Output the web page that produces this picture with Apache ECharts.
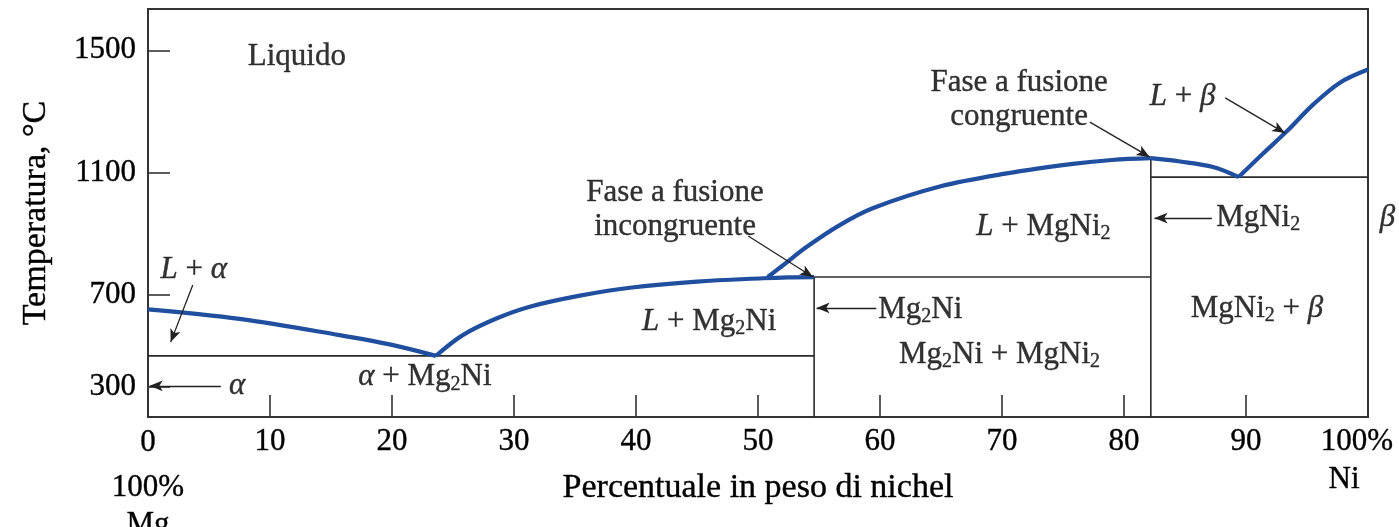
<!DOCTYPE html>
<html><head><meta charset="utf-8">
<script src="https://cdn.jsdelivr.net/npm/echarts@6/dist/echarts.min.js"></script>
<style>html,body{margin:0;padding:0;background:#fff}#c{width:1399px;height:527px}</style>
</head><body><div id="c"></div>
<script>
// ---- data (composition wt% Ni, temperature °C) ----
const xTickValues = [0,10,20,30,40,50,60,70,80,90,100];
const yTickValues = [400, 700, 1100, 1500];
const yTickLabels = ['300', '700', '1100', '1500'];

const liquidusMg      = [[0,652],[7.5,621],[15.7,568],[20,536],[23.6,500]];
const liquidusMg2Ni   = [[23.6,500],[25.8,568],[28.6,623],[31.3,661],[35.4,697],[39.5,723],[45,743],[50.4,754],[52.5,757],[54.6,758]];
const liquidusMgNi2L  = [[50.8,758],[52,795],[54,857],[56.7,928],[59.4,983],[64.9,1054],[70.4,1097],[75.8,1128],[79,1141],[82.2,1147]];
const liquidusMgNi2R  = [[82.2,1147],[84.6,1136],[87.3,1118],[89.4,1085]];
const liquidusNi      = [[89.4,1085],[91.4,1162],[93.3,1233],[95.5,1322],[97.7,1394],[100,1437]];

const eutecticLeft  = [[0,500],[54.6,500]];
const mg2niLine     = [[54.6,300],[54.6,758]];
const peritectic    = [[54.6,758],[82.2,758]];
const mgni2Line     = [[82.2,300],[82.2,1147]];
const eutecticRight = [[82.2,1085],[100,1085]];

const regionLabels = [
  ['Liquido', 12.2, 1478],
  ['{i|L} + {i|α}', 3.76, 781],
  ['{i|α}', 7.3, 401],
  ['{i|α} + Mg{s|2}Ni', 22.7, 430],
  ['{i|L} + Mg{s|2}Ni', 46.0, 611],
  ['Mg{s|2}Ni', 63.3, 652],
  ['Mg{s|2}Ni + MgNi{s|2}', 69.8, 503],
  ['{i|L} + MgNi{s|2}', 73.4, 922],
  ['{i|L} + {i|β}', 84.8, 1347],
  ['MgNi{s|2}', 91.0, 951],
  ['{i|β}', 101.6, 951],
  ['MgNi{s|2} + {i|β}', 90.9, 653]
];
const noteLabels = [
  ['Fase a fusione\nincongruente', 43.2, 977],
  ['Fase a fusione\ncongruente', 71.4, 1337]
];
const arrows = [
  [[3.67,732],[1.86,545]],
  [[5.97,402],[0.14,402]],
  [[49.2,892],[54.5,758]],
  [[59.7,657],[54.8,657]],
  [[77.2,1265],[82.1,1151]],
  [[88.3,1344],[93.2,1229]],
  [[87.2,951],[82.5,951]]
];

// ---- styles ----
const FONT = '"Liberation Serif","DejaVu Serif",serif';
const TEXT = '#000';
const BLUE = '#1f4f9e';
const FS = 31;
const TB = {textBorderColor: '#111', textBorderWidth: 0.4};
const rich = {
  i: Object.assign({fontFamily: FONT, fontStyle: 'italic', fontSize: FS, color: TEXT, lineHeight: 34}, TB),
  s: Object.assign({fontFamily: FONT, fontSize: 20, color: TEXT, lineHeight: 16, verticalAlign: 'bottom'}, TB)
};

function blue(data) {
  return {type: 'line', data: data, symbol: 'none', smooth: 0.35,
    lineStyle: {color: BLUE, width: 4.2}, z: 4, silent: true};
}
function black(data) {
  return {type: 'line', data: data, symbol: 'none',
    lineStyle: {color: '#2b2b2b', width: 1.6}, z: 3, silent: true};
}

const series = [
  Object.assign(black(eutecticLeft), {
    markLine: {
      silent: true, symbol: ['none', 'arrow'], symbolSize: [8, 13], animation: false,
      label: {show: false},
      lineStyle: {color: '#222', width: 1.3, type: 'solid'},
      data: arrows.map(a => [{coord: a[0]}, {coord: a[1]}])
    }
  }),
  black(mg2niLine), black(peritectic), black(mgni2Line), black(eutecticRight),
  blue(liquidusMg), blue(liquidusMg2Ni), blue(liquidusMgNi2L), blue(liquidusMgNi2R), blue(liquidusNi),
  {
    type: 'scatter', symbolSize: 0, clip: false, silent: true, z: 6,
    data: regionLabels.map(l => ({value: [l[1], l[2]], label: {formatter: l[0]}})),
    label: Object.assign({show: true, position: 'inside', align: 'center', verticalAlign: 'middle',
      fontFamily: FONT, fontSize: FS, color: TEXT, lineHeight: 34, rich: rich}, TB)
  },
  {
    type: 'scatter', symbolSize: 0, clip: false, silent: true, z: 6,
    data: noteLabels.map(l => ({value: [l[1], l[2]], label: {formatter: l[0]}})),
    label: Object.assign({show: true, position: 'inside', align: 'center', verticalAlign: 'middle',
      fontFamily: FONT, fontSize: FS, color: TEXT, lineHeight: 34}, TB)
  }
];

const chart = echarts.init(document.getElementById('c'), null, {renderer: 'canvas'});
chart.setOption({
  animation: false,
  backgroundColor: '#fff',
  grid: {left: 148, right: 31, top: 9, bottom: 110, containLabel: false, outerBoundsMode: 'none',
    show: true, borderColor: '#333', borderWidth: 2},
  xAxis: {
    type: 'value', min: 0, max: 100, interval: 10,
    name: 'Percentuale in peso di nichel', nameLocation: 'middle', nameGap: 54, nameMoveOverlap: false,
    nameTextStyle: Object.assign({fontFamily: FONT, fontSize: 34, color: TEXT}, TB),
    axisLine: {show: true, lineStyle: {color: '#333', width: 2}},
    axisTick: {show: true, inside: true, length: 22, lineStyle: {color: '#333', width: 1.6}},
    splitLine: {show: false},
    axisLabel: Object.assign({
      margin: 3, showMinLabel: true, showMaxLabel: true, hideOverlap: false,
      fontFamily: FONT, fontSize: FS, color: TEXT, lineHeight: 44,
      formatter: function (v) {
        if (v === 0) return '{l|0}\n{l|100%}\n{m|Mg}';
        if (v === 100) return '{r|100%}\n{q|Ni}';
        return String(v);
      },
      rich: {
        l: Object.assign({fontFamily: FONT, fontSize: FS, color: TEXT, lineHeight: 45}, TB),
        m: Object.assign({fontFamily: FONT, fontSize: FS, color: TEXT, lineHeight: 30}, TB),
        r: Object.assign({fontFamily: FONT, fontSize: FS, color: TEXT, lineHeight: 44, padding: [0, 22, 0, 0]}, TB),
        q: Object.assign({fontFamily: FONT, fontSize: FS, color: TEXT, lineHeight: 32, padding: [0, 48, 0, 0]}, TB)
      }
    }, TB)
  },
  yAxis: {
    type: 'value', min: 300, max: 1635,
    name: 'Temperatura, °C', nameLocation: 'middle', nameGap: 95, nameMoveOverlap: false,
    nameTextStyle: Object.assign({fontFamily: FONT, fontSize: 34, color: TEXT}, TB),
    axisLine: {show: true, lineStyle: {color: '#333', width: 2}},
    axisTick: {show: true, inside: true, length: 22, customValues: yTickValues, lineStyle: {color: '#333', width: 1.6}},
    splitLine: {show: false},
    axisLabel: Object.assign({
      margin: 12, customValues: yTickValues,
      fontFamily: FONT, fontSize: FS, color: TEXT,
      formatter: function (v) { const i = yTickValues.indexOf(v); return i >= 0 ? yTickLabels[i] : ''; }
    }, TB)
  },
  series: series
});
</script></body></html>
